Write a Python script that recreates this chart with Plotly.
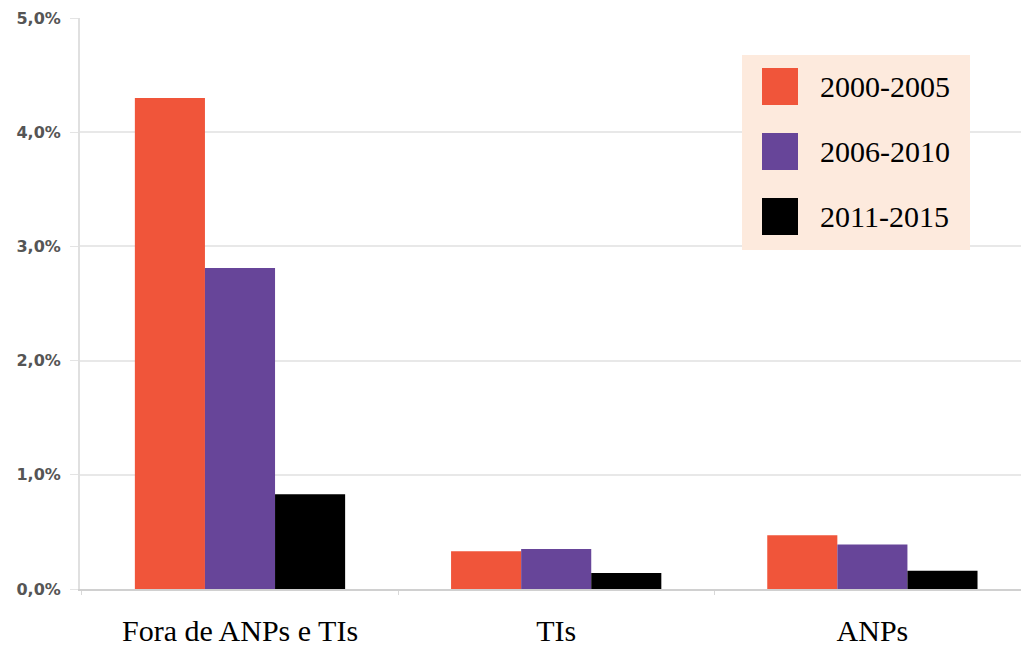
import plotly.graph_objects as go

# Share of deforested area by land category and period (%)
categories = ["Fora de ANPs e TIs", "TIs", "ANPs"]
periods = ["2000-2005", "2006-2010", "2011-2015"]
values_2000_2005 = [4.30, 0.33, 0.47]
values_2006_2010 = [2.81, 0.35, 0.39]
values_2011_2015 = [0.83, 0.14, 0.16]
series_values = [values_2000_2005, values_2006_2010, values_2011_2015]
colors = ["#F0553A", "#674599", "#000000"]
y_ticks = [0, 1, 2, 3, 4, 5]
y_tick_labels = ["0,0%", "1,0%", "2,0%", "3,0%", "4,0%", "5,0%"]

W, H = 1021, 646
ML, MR, MT, MB = 80, 0, 18, 57
PW, PH = W - ML - MR, H - MT - MB

fig = go.Figure()
for name, vals, col in zip(periods, series_values, colors):
    fig.add_trace(go.Bar(
        x=categories, y=vals, name=name,
        marker=dict(color=col, line=dict(width=0)),
        showlegend=False,
    ))


def px_x(p):
    return (p - ML) / PW


def px_y(p):
    return (H - MB - p) / PH


# Legend panel with large swatches
shapes = [dict(type="rect", xref="paper", yref="paper",
               x0=px_x(742), x1=px_x(970), y0=px_y(250), y1=px_y(55),
               fillcolor="#FDEADD", line=dict(width=0), layer="above")]
annotations = []
row_top = [68, 133, 198]
for name, col, top in zip(periods, colors, row_top):
    shapes.append(dict(type="rect", xref="paper", yref="paper",
                       x0=px_x(762), x1=px_x(798), y0=px_y(top + 37), y1=px_y(top),
                       fillcolor=col, line=dict(width=0), layer="above"))
    annotations.append(dict(text=name, xref="paper", yref="paper",
                            x=px_x(818), y=px_y(top + 18.5),
                            xanchor="left", yanchor="middle", showarrow=False,
                            font=dict(family="Liberation Serif", size=30, color="#000000")))

fig.update_layout(
    width=W, height=H,
    margin=dict(l=ML, r=MR, t=MT, b=MB, pad=0),
    paper_bgcolor="white", plot_bgcolor="white",
    barmode="group", bargap=0.335, bargroupgap=0,
    shapes=shapes, annotations=annotations,
    xaxis=dict(
        range=[-0.506, 2.47], showgrid=False,
        showline=True, linecolor="#D0D0D0", linewidth=1.5,
        ticks="outside", tickson="boundaries", ticklen=4, tickcolor="#D8D8D8",
        ticklabelstandoff=14,
        tickfont=dict(family="Liberation Serif", size=30, color="#000000"),
    ),
    yaxis=dict(
        range=[0, 5], tickvals=y_ticks, ticktext=y_tick_labels,
        showgrid=True, gridcolor="#E8E8E8", gridwidth=1.5,
        zeroline=False,
        showline=True, linecolor="#E0E0E0", linewidth=2,
        ticks="outside", ticklen=8, tickcolor="#E4E4E4",
        ticklabelstandoff=6,
        tickfont=dict(family="DejaVu Sans", size=16, color="#555555", weight="bold"),
    ),
)

fig.write_html("out.html")
